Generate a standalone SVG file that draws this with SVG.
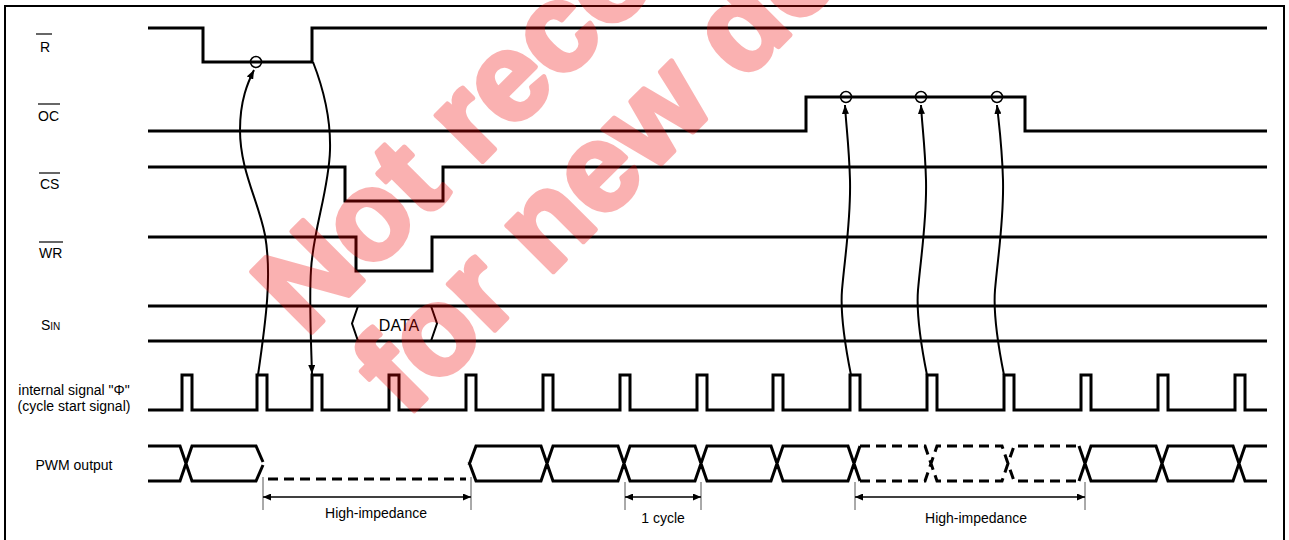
<svg xmlns="http://www.w3.org/2000/svg" width="1289" height="540" viewBox="0 0 1289 540">
<style>
.sig{fill:none;stroke:#000;stroke-width:3}
.dash{fill:none;stroke:#000;stroke-width:3;stroke-dasharray:10,6}
.thin{fill:none;stroke:#000;stroke-width:2}
.ovl{stroke:#000;stroke-width:1.2}
.tick{stroke:#555;stroke-width:1}
.dim{fill:none;stroke:#000;stroke-width:1.6}
.lbl{font-family:"Liberation Sans",Arial,Helvetica,sans-serif;font-size:14px;fill:#000}
.mid{text-anchor:middle}
.circ{fill:none;stroke:#000;stroke-width:1.5}
.wm{font-family:"Liberation Sans",Arial,sans-serif;font-weight:bold;font-size:124px;fill:rgb(240,0,0);stroke:rgb(240,0,0);stroke-width:5;stroke-linejoin:round}
</style>
<defs>
<marker id="ah" markerWidth="8" markerHeight="7" refX="8" refY="3.5" orient="auto-start-reverse" markerUnits="userSpaceOnUse">
<path d="M0,0 L8,3.5 L0,7 z" fill="#000"/>
</marker>
<marker id="dh" markerWidth="9" markerHeight="7" refX="9" refY="3.5" orient="auto-start-reverse" markerUnits="userSpaceOnUse">
<path d="M0,0 L9,3.5 L0,7 z" fill="#000"/>
</marker>
</defs>
<rect x="5" y="6" width="1279" height="540" fill="#fff" stroke="#000" stroke-width="2"/>

<g id="sig-R">
<path class="sig" d="M148,28 H203 V62 H312 V28 H1267"/>
<line class="ovl" x1="36" y1="34" x2="52" y2="34"/>
<text class="lbl" x="40" y="52">R</text>
<circle class="circ" cx="256" cy="62" r="5.5"/>
</g>
<g id="sig-OC">
<path class="sig" d="M148,131 H806 V97 H1025 V131 H1267"/>
<line class="ovl" x1="38" y1="104" x2="60" y2="104"/>
<text class="lbl" x="38" y="121">OC</text>
<circle class="circ" cx="846" cy="97" r="5.5"/>
<circle class="circ" cx="921" cy="97" r="5.5"/>
<circle class="circ" cx="997" cy="97" r="5.5"/>
</g>
<g id="sig-CS">
<path class="sig" d="M148,167 H345 V201 H443 V167 H1267"/>
<line class="ovl" x1="39" y1="173" x2="60" y2="173"/>
<text class="lbl" x="40" y="189">CS</text>
</g>
<g id="sig-WR">
<path class="sig" d="M148,237 H356 V271 H432 V237 H1267"/>
<line class="ovl" x1="39" y1="242" x2="63" y2="242"/>
<text class="lbl" x="39" y="258">WR</text>
</g>
<g id="sig-SIN">
<path class="sig" d="M148,306 H1267 M148,341 H1267"/>
<path class="thin" d="M358,306 L352,323.5 L358,341 M431,306 L437,323.5 L431,341"/>
<text class="lbl mid" x="399" y="331" style="font-size:16px">DATA</text>
<text class="lbl" x="41" y="330">S<tspan style="font-size:10px">IN</tspan></text>
</g>
<g id="sig-PHI">
<path class="sig" d="M148,410 H182 V375 H192 V410 H257 V375 H267 V410 H312 V375 H322 V410 H389 V375 H399 V410 H466 V375 H476 V410 H543 V375 H553 V410 H620 V375 H630 V410 H697 V375 H707 V410 H773 V375 H783 V410 H850 V375 H860 V410 H927 V375 H937 V410 H1004 V375 H1014 V410 H1081 V375 H1091 V410 H1158 V375 H1168 V410 H1235 V375 H1245 V410 H1267"/>
<text class="lbl mid" x="74" y="395">internal signal "Φ"</text>
<text class="lbl mid" x="74" y="411">(cycle start signal)</text>
</g>
<g id="sig-PWM">
<path class="sig" d="M148,446 H180 L192,481 H256 L263,465 M148,481 H180 L192,446 H256 L263,462"/>
<path class="dash" d="M268,479 H466"/>
<path class="sig" d="M469,465 L476,446 H541 L553,481 H618 L630,446 H695 L707,481 H771 L783,446 H848 L860,481 M469,462 L476,481 H541 L553,446 H618 L630,481 H695 L707,446 H771 L783,481 H848 L860,446"/>
<path class="dash" d="M860,481 H925 L937,446 H1002 L1014,481 H1079 M860,446 H925 L937,481 H1002 L1014,446 H1079"/>
<path class="sig" d="M1079,481 L1091,446 H1156 L1168,481 H1233 L1245,446 H1267 M1079,446 L1091,481 H1156 L1168,446 H1233 L1245,481 H1267"/>
<text class="lbl mid" x="74" y="470">PWM output</text>
</g>

<g id="connectors">
<path class="thin" d="M258,375 C266,320 272,275 265,235 C258,200 240,170 240,130 C240,100 248,82 254,70" marker-end="url(#dh)"/>
<path class="thin" d="M313,62 C322,85 331,115 330,150 C329,190 313,230 311,270 C309,300 311,340 312,374" marker-end="url(#dh)"/>
<path class="thin" d="M851,375 C845,345 840,315 842,290 C845,255 851,220 850,180 C849,145 846,125 845,105" marker-end="url(#dh)"/>
<path class="thin" d="M927,375 C921,345 916,315 918,290 C921,255 927,220 926,180 C925,145 922,125 921,105" marker-end="url(#dh)"/>
<path class="thin" d="M1004,375 C998,345 993,315 995,290 C998,255 1004,220 1003,180 C1002,145 999,125 997,105" marker-end="url(#dh)"/>
</g>

<g id="dimensions">
<line class="tick" x1="263" y1="477" x2="263" y2="510"/>
<line class="tick" x1="471" y1="477" x2="471" y2="510"/>
<path class="dim" d="M263,497 H471" marker-start="url(#ah)" marker-end="url(#ah)"/>
<text class="lbl mid" x="376" y="518">High-impedance</text>
<line class="tick" x1="625" y1="482" x2="625" y2="510"/>
<line class="tick" x1="701" y1="482" x2="701" y2="510"/>
<path class="dim" d="M625,497 H701" marker-start="url(#ah)" marker-end="url(#ah)"/>
<text class="lbl mid" x="663" y="523">1 cycle</text>
<line class="tick" x1="855" y1="482" x2="855" y2="510"/>
<line class="tick" x1="1085" y1="482" x2="1085" y2="510"/>
<path class="dim" d="M855,497 H1085" marker-start="url(#ah)" marker-end="url(#ah)"/>
<text class="lbl mid" x="976" y="523">High-impedance</text>
</g>

<g id="watermark" opacity="0.3">
<text class="wm" transform="translate(306,338) rotate(-45)">Not recommended</text>
<text class="wm" transform="translate(406,419) rotate(-45)">for new design</text>
</g>
</svg>
